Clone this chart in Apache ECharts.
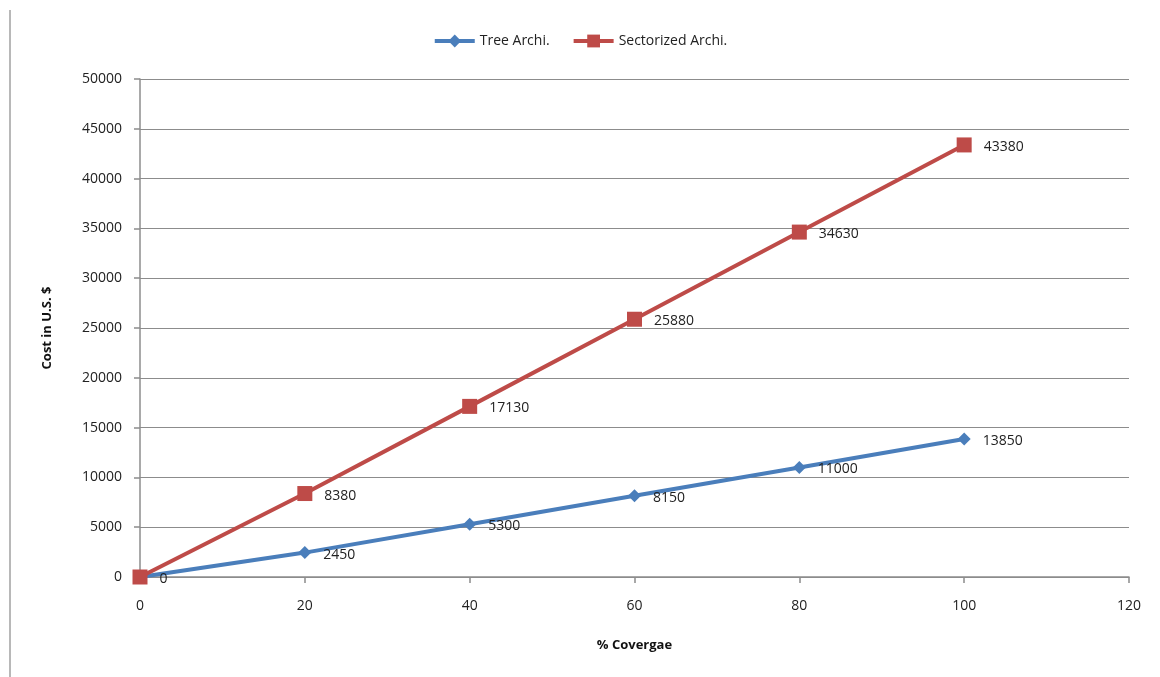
<!DOCTYPE html>
<html>
<head>
<meta charset="utf-8">
<script src="https://cdn.jsdelivr.net/npm/echarts@6/dist/echarts.min.js"></script>
<style>
  html, body { margin: 0; padding: 0; background: #fff; }
  #chart { width: 1160px; height: 677px; }
</style>
</head>
<body>
<div id="chart"></div>
<script>
// Coverage percentages (x) and cost values for each architecture
const coverage = [0, 20, 40, 60, 80, 100];
const treeCost = [0, 2450, 5300, 8150, 11000, 13850];
const sectorCost = [0, 8380, 17130, 25880, 34630, 43380];
const seriesNames = ['Tree Archi.', 'Sectorized Archi.'];

const FONT = '"Open Sans", "Noto Sans", sans-serif';
const chart = echarts.init(document.getElementById('chart'));

const pairs = (ys) => coverage.map((x, i) => [x, ys[i]]);

chart.setOption({
  animation: false,
  backgroundColor: '#fff',
  textStyle: { fontFamily: FONT },
  graphic: [{
    type: 'line',
    shape: { x1: 10, y1: 10, x2: 10, y2: 677 },
    style: { stroke: '#a0a0a0', lineWidth: 1.5 }
  }],
  legend: {
    top: 29,
    left: 'center',
    itemWidth: 40,
    itemHeight: 16,
    itemGap: 22,
    lineStyle: { width: 4 },
    textStyle: { fontFamily: FONT, fontSize: 14, color: '#222' },
    data: seriesNames
  },
  grid: { left: 140, right: 31, top: 79, bottom: 100 },
  xAxis: {
    type: 'value',
    min: 0, max: 120, interval: 20,
    name: '% Covergae',
    nameLocation: 'middle',
    nameGap: 62,
    nameTextStyle: { fontFamily: FONT, fontSize: 13, fontWeight: 'bold', color: '#111' },
    axisLine: { show: true, lineStyle: { color: '#8c8c8c', width: 1.5 } },
    axisTick: { show: true, inside: false, length: 6, lineStyle: { color: '#8c8c8c', width: 1.5 } },
    axisLabel: { margin: 22, fontSize: 14, color: '#222', fontFamily: FONT },
    splitLine: { show: false }
  },
  yAxis: {
    type: 'value',
    min: 0, max: 50000, interval: 5000,
    name: 'Cost in U.S. $',
    nameLocation: 'middle',
    nameGap: 86,
    nameRotate: 90,
    nameTextStyle: { fontFamily: FONT, fontSize: 13, fontWeight: 'bold', color: '#111' },
    axisLine: { show: true, lineStyle: { color: '#8c8c8c', width: 1.5 } },
    axisTick: { show: true, inside: false, length: 6, lineStyle: { color: '#8c8c8c', width: 1.5 } },
    axisLabel: { margin: 18, fontSize: 14, color: '#222', fontFamily: FONT, formatter: (v) => String(v) },
    splitLine: { show: true, lineStyle: { color: '#8c8c8c', width: 1.2 } }
  },
  series: [
    {
      name: seriesNames[0],
      type: 'line',
      data: pairs(treeCost),
      symbol: 'diamond',
      symbolSize: 13,
      itemStyle: { color: '#4a7ebb' },
      lineStyle: { color: '#4a7ebb', width: 4 },
      label: {
        show: true, position: 'right', distance: 12, offset: [0, 2],
        fontSize: 14, color: '#222', fontFamily: FONT,
        formatter: (p) => (p.value[1] === 0 ? '' : p.value[1])
      },
      z: 2
    },
    {
      name: seriesNames[1],
      type: 'line',
      data: pairs(sectorCost),
      symbol: 'rect',
      symbolSize: 15,
      itemStyle: { color: '#be4b48' },
      lineStyle: { color: '#be4b48', width: 4 },
      label: {
        show: true, position: 'right', distance: 12, offset: [0, 2],
        fontSize: 14, color: '#222', fontFamily: FONT,
        formatter: (p) => String(p.value[1])
      },
      z: 3
    }
  ]
});
</script>
</body>
</html>
